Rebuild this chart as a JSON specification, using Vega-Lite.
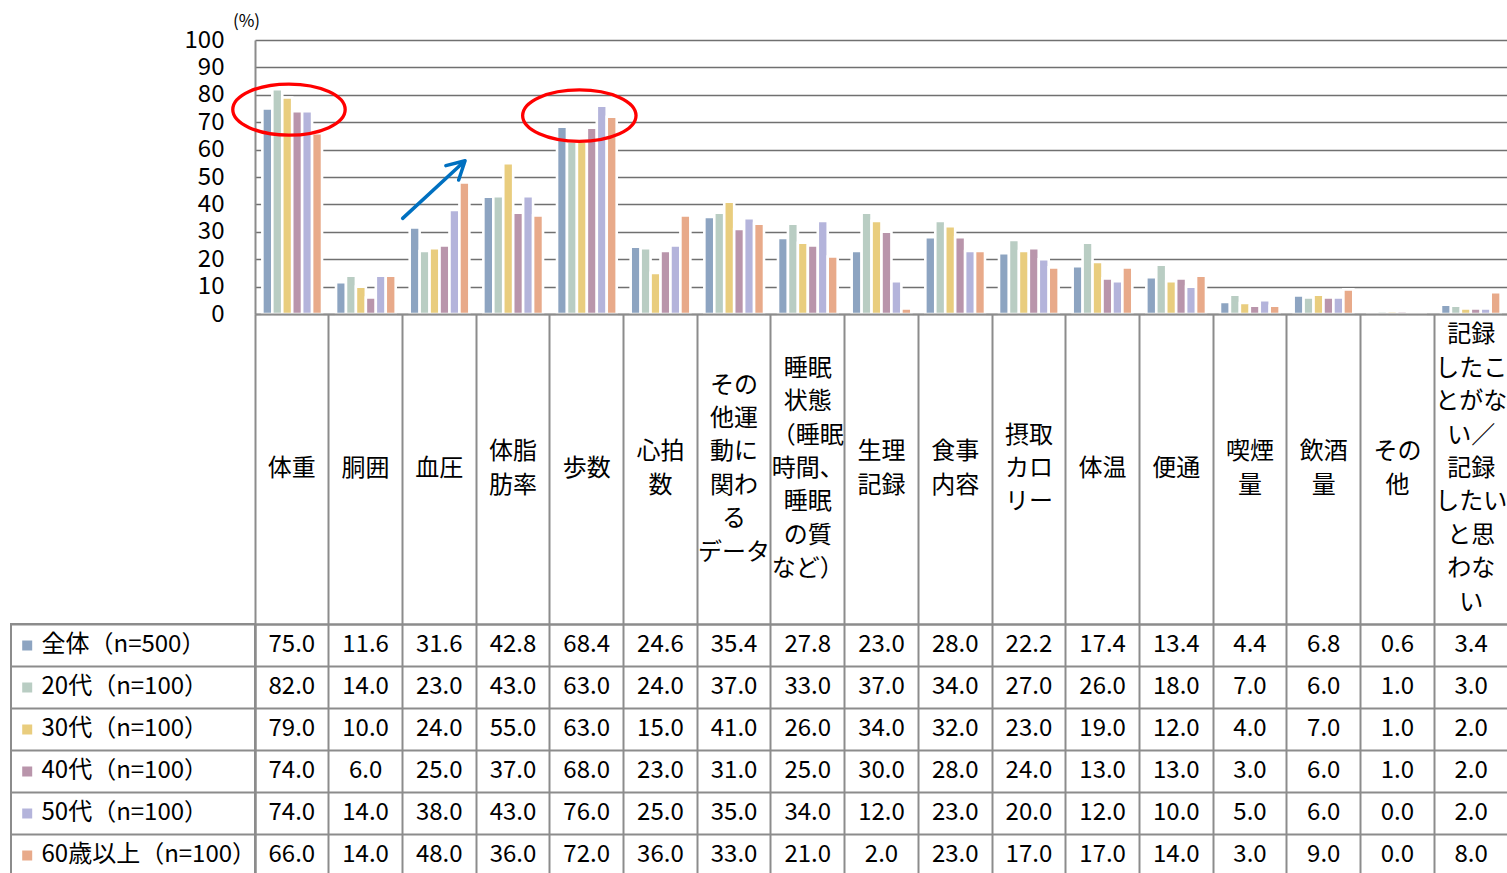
{
  "$schema": "https://vega.github.io/schema/vega-lite/v6.json",
  "padding": {"left": 10, "top": 12, "right": 0, "bottom": 0},
  "background": "white",
  "config": {
    "view": {"stroke": null},
    "font": "Noto Sans CJK JP",
    "axis": {"labelFont": "Noto Sans CJK JP", "titleFont": "Noto Sans CJK JP"}
  },
  "datasets": {
    "values": [
      {"category": "体重", "series": "全体（n=500）", "value": 75.0},
      {"category": "体重", "series": "20代（n=100）", "value": 82.0},
      {"category": "体重", "series": "30代（n=100）", "value": 79.0},
      {"category": "体重", "series": "40代（n=100）", "value": 74.0},
      {"category": "体重", "series": "50代（n=100）", "value": 74.0},
      {"category": "体重", "series": "60歳以上（n=100）", "value": 66.0},
      {"category": "胴囲", "series": "全体（n=500）", "value": 11.6},
      {"category": "胴囲", "series": "20代（n=100）", "value": 14.0},
      {"category": "胴囲", "series": "30代（n=100）", "value": 10.0},
      {"category": "胴囲", "series": "40代（n=100）", "value": 6.0},
      {"category": "胴囲", "series": "50代（n=100）", "value": 14.0},
      {"category": "胴囲", "series": "60歳以上（n=100）", "value": 14.0},
      {"category": "血圧", "series": "全体（n=500）", "value": 31.6},
      {"category": "血圧", "series": "20代（n=100）", "value": 23.0},
      {"category": "血圧", "series": "30代（n=100）", "value": 24.0},
      {"category": "血圧", "series": "40代（n=100）", "value": 25.0},
      {"category": "血圧", "series": "50代（n=100）", "value": 38.0},
      {"category": "血圧", "series": "60歳以上（n=100）", "value": 48.0},
      {"category": "体脂肪率", "series": "全体（n=500）", "value": 42.8},
      {"category": "体脂肪率", "series": "20代（n=100）", "value": 43.0},
      {"category": "体脂肪率", "series": "30代（n=100）", "value": 55.0},
      {"category": "体脂肪率", "series": "40代（n=100）", "value": 37.0},
      {"category": "体脂肪率", "series": "50代（n=100）", "value": 43.0},
      {"category": "体脂肪率", "series": "60歳以上（n=100）", "value": 36.0},
      {"category": "歩数", "series": "全体（n=500）", "value": 68.4},
      {"category": "歩数", "series": "20代（n=100）", "value": 63.0},
      {"category": "歩数", "series": "30代（n=100）", "value": 63.0},
      {"category": "歩数", "series": "40代（n=100）", "value": 68.0},
      {"category": "歩数", "series": "50代（n=100）", "value": 76.0},
      {"category": "歩数", "series": "60歳以上（n=100）", "value": 72.0},
      {"category": "心拍数", "series": "全体（n=500）", "value": 24.6},
      {"category": "心拍数", "series": "20代（n=100）", "value": 24.0},
      {"category": "心拍数", "series": "30代（n=100）", "value": 15.0},
      {"category": "心拍数", "series": "40代（n=100）", "value": 23.0},
      {"category": "心拍数", "series": "50代（n=100）", "value": 25.0},
      {"category": "心拍数", "series": "60歳以上（n=100）", "value": 36.0},
      {"category": "その他運動に関わるデータ", "series": "全体（n=500）", "value": 35.4},
      {"category": "その他運動に関わるデータ", "series": "20代（n=100）", "value": 37.0},
      {"category": "その他運動に関わるデータ", "series": "30代（n=100）", "value": 41.0},
      {"category": "その他運動に関わるデータ", "series": "40代（n=100）", "value": 31.0},
      {"category": "その他運動に関わるデータ", "series": "50代（n=100）", "value": 35.0},
      {"category": "その他運動に関わるデータ", "series": "60歳以上（n=100）", "value": 33.0},
      {"category": "睡眠状態（睡眠時間、睡眠の質など）", "series": "全体（n=500）", "value": 27.8},
      {"category": "睡眠状態（睡眠時間、睡眠の質など）", "series": "20代（n=100）", "value": 33.0},
      {"category": "睡眠状態（睡眠時間、睡眠の質など）", "series": "30代（n=100）", "value": 26.0},
      {"category": "睡眠状態（睡眠時間、睡眠の質など）", "series": "40代（n=100）", "value": 25.0},
      {"category": "睡眠状態（睡眠時間、睡眠の質など）", "series": "50代（n=100）", "value": 34.0},
      {"category": "睡眠状態（睡眠時間、睡眠の質など）", "series": "60歳以上（n=100）", "value": 21.0},
      {"category": "生理記録", "series": "全体（n=500）", "value": 23.0},
      {"category": "生理記録", "series": "20代（n=100）", "value": 37.0},
      {"category": "生理記録", "series": "30代（n=100）", "value": 34.0},
      {"category": "生理記録", "series": "40代（n=100）", "value": 30.0},
      {"category": "生理記録", "series": "50代（n=100）", "value": 12.0},
      {"category": "生理記録", "series": "60歳以上（n=100）", "value": 2.0},
      {"category": "食事内容", "series": "全体（n=500）", "value": 28.0},
      {"category": "食事内容", "series": "20代（n=100）", "value": 34.0},
      {"category": "食事内容", "series": "30代（n=100）", "value": 32.0},
      {"category": "食事内容", "series": "40代（n=100）", "value": 28.0},
      {"category": "食事内容", "series": "50代（n=100）", "value": 23.0},
      {"category": "食事内容", "series": "60歳以上（n=100）", "value": 23.0},
      {"category": "摂取カロリー", "series": "全体（n=500）", "value": 22.2},
      {"category": "摂取カロリー", "series": "20代（n=100）", "value": 27.0},
      {"category": "摂取カロリー", "series": "30代（n=100）", "value": 23.0},
      {"category": "摂取カロリー", "series": "40代（n=100）", "value": 24.0},
      {"category": "摂取カロリー", "series": "50代（n=100）", "value": 20.0},
      {"category": "摂取カロリー", "series": "60歳以上（n=100）", "value": 17.0},
      {"category": "体温", "series": "全体（n=500）", "value": 17.4},
      {"category": "体温", "series": "20代（n=100）", "value": 26.0},
      {"category": "体温", "series": "30代（n=100）", "value": 19.0},
      {"category": "体温", "series": "40代（n=100）", "value": 13.0},
      {"category": "体温", "series": "50代（n=100）", "value": 12.0},
      {"category": "体温", "series": "60歳以上（n=100）", "value": 17.0},
      {"category": "便通", "series": "全体（n=500）", "value": 13.4},
      {"category": "便通", "series": "20代（n=100）", "value": 18.0},
      {"category": "便通", "series": "30代（n=100）", "value": 12.0},
      {"category": "便通", "series": "40代（n=100）", "value": 13.0},
      {"category": "便通", "series": "50代（n=100）", "value": 10.0},
      {"category": "便通", "series": "60歳以上（n=100）", "value": 14.0},
      {"category": "喫煙量", "series": "全体（n=500）", "value": 4.4},
      {"category": "喫煙量", "series": "20代（n=100）", "value": 7.0},
      {"category": "喫煙量", "series": "30代（n=100）", "value": 4.0},
      {"category": "喫煙量", "series": "40代（n=100）", "value": 3.0},
      {"category": "喫煙量", "series": "50代（n=100）", "value": 5.0},
      {"category": "喫煙量", "series": "60歳以上（n=100）", "value": 3.0},
      {"category": "飲酒量", "series": "全体（n=500）", "value": 6.8},
      {"category": "飲酒量", "series": "20代（n=100）", "value": 6.0},
      {"category": "飲酒量", "series": "30代（n=100）", "value": 7.0},
      {"category": "飲酒量", "series": "40代（n=100）", "value": 6.0},
      {"category": "飲酒量", "series": "50代（n=100）", "value": 6.0},
      {"category": "飲酒量", "series": "60歳以上（n=100）", "value": 9.0},
      {"category": "その他", "series": "全体（n=500）", "value": 0.6},
      {"category": "その他", "series": "20代（n=100）", "value": 1.0},
      {"category": "その他", "series": "30代（n=100）", "value": 1.0},
      {"category": "その他", "series": "40代（n=100）", "value": 1.0},
      {"category": "その他", "series": "50代（n=100）", "value": 0.0},
      {"category": "その他", "series": "60歳以上（n=100）", "value": 0.0},
      {"category": "記録したことがない／記録したいと思わない", "series": "全体（n=500）", "value": 3.4},
      {"category": "記録したことがない／記録したいと思わない", "series": "20代（n=100）", "value": 3.0},
      {"category": "記録したことがない／記録したいと思わない", "series": "30代（n=100）", "value": 2.0},
      {"category": "記録したことがない／記録したいと思わない", "series": "40代（n=100）", "value": 2.0},
      {"category": "記録したことがない／記録したいと思わない", "series": "50代（n=100）", "value": 2.0},
      {"category": "記録したことがない／記録したいと思わない", "series": "60歳以上（n=100）", "value": 8.0}
    ],
    "cats": [
      {"category": "体重", "label": "体重"},
      {"category": "胴囲", "label": "胴囲"},
      {"category": "血圧", "label": "血圧"},
      {"category": "体脂肪率", "label": "体脂|肪率"},
      {"category": "歩数", "label": "歩数"},
      {"category": "心拍数", "label": "心拍|数"},
      {"category": "その他運動に関わるデータ", "label": "その|他運|動に|関わ|る|データ"},
      {"category": "睡眠状態（睡眠時間、睡眠の質など）", "label": "睡眠|状態|（睡眠|時間、|睡眠|の質|など）"},
      {"category": "生理記録", "label": "生理|記録"},
      {"category": "食事内容", "label": "食事|内容"},
      {"category": "摂取カロリー", "label": "摂取|カロ|リー"},
      {"category": "体温", "label": "体温"},
      {"category": "便通", "label": "便通"},
      {"category": "喫煙量", "label": "喫煙|量"},
      {"category": "飲酒量", "label": "飲酒|量"},
      {"category": "その他", "label": "その|他"},
      {"category": "記録したことがない／記録したいと思わない", "label": "記録|したこ|とがな|い／|記録|したい|と思|わな|い"}
    ],
    "series": [
      {"series": "全体（n=500）"},
      {"series": "20代（n=100）"},
      {"series": "30代（n=100）"},
      {"series": "40代（n=100）"},
      {"series": "50代（n=100）"},
      {"series": "60歳以上（n=100）"}
    ]
  },
  "columns": 2,
  "spacing": 0,
  "bounds": "flush",
  "align": "each",
  "concat": [
    {
      "width": 244, "height": 274,
      "data": {"values": [{}]},
      "mark": {"type": "text", "text": ""},
      "encoding": {}
    },
    {
      "width": 1253, "height": 274,
      "layer": [
        {
          "data": {"name": "values"},
          "mark": {"type": "bar", "stroke": "white", "strokeWidth": 2.6},
          "encoding": {
            "x": {
              "field": "category", "type": "nominal",
              "scale": {"type": "band", "domain": ["体重","胴囲","血圧","体脂肪率","歩数","心拍数","その他運動に関わるデータ","睡眠状態（睡眠時間、睡眠の質など）","生理記録","食事内容","摂取カロリー","体温","便通","喫煙量","飲酒量","その他","記録したことがない／記録したいと思わない"], "paddingInner": 0.19, "paddingOuter": 0.1},
              "axis": {"orient": "bottom", "labels": false, "ticks": false, "title": null, "domain": true, "domainColor": "#8c8c8c", "domainWidth": 2, "grid": false, "zindex": 1}
            },
            "xOffset": {
              "field": "series", "type": "nominal",
              "scale": {"domain": ["全体（n=500）","20代（n=100）","30代（n=100）","40代（n=100）","50代（n=100）","60歳以上（n=100）"], "paddingInner": 0, "paddingOuter": 0}
            },
            "y": {
              "field": "value", "type": "quantitative",
              "scale": {"domain": [0, 100], "nice": false},
              "axis": {
                "values": [0,10,20,30,40,50,60,70,80,90,100],
                "tickCount": 20,
                "domain": true, "domainColor": "#8c8c8c", "domainWidth": 2,
                "ticks": false, "labelPadding": 31, "labelFontSize": 24, "labelColor": "#000000",
                "labelFlush": false, "labelOverlap": false,
                "grid": true, "gridColor": "#707070", "gridWidth": 1.5,
                "title": "(%)", "titleAngle": 0, "titleFontSize": 17, "titleFontWeight": "normal",
                "titleX": -9, "titleY": -19, "titleAlign": "center", "titleBaseline": "middle", "titleColor": "#000000"
              }
            },
            "color": {
              "field": "series", "type": "nominal",
              "scale": {"domain": ["全体（n=500）","20代（n=100）","30代（n=100）","40代（n=100）","50代（n=100）","60歳以上（n=100）"], "range": ["#8DA4C1","#B9CDC3","#E9CD7E","#B995AB","#B4B4DB","#E8AA8A"]},
              "legend": null
            }
          }
        },
        {
          "data": {"values": [{"category": "体重", "value": 74.6}]},
          "mark": {"type": "point", "shape": "M-1,0C-1,-0.2513,-0.5523,-0.455,0,-0.455C0.5523,-0.455,1,-0.2513,1,0C1,0.2513,0.5523,0.455,0,0.455C-0.5523,0.455,-1,0.2513,-1,0Z", "filled": false, "stroke": "#FF0000", "strokeWidth": 3.3, "size": 12634, "opacity": 1},
          "encoding": {
            "x": {"field": "category", "type": "nominal", "bandPosition": 0.446},
            "y": {"field": "value", "type": "quantitative", "axis": {"values": [0,10,20,30,40,50,60,70,80,90,100], "tickCount": 20}}
          }
        },
        {
          "data": {"values": [{"category": "歩数", "value": 72.4}]},
          "mark": {"type": "point", "shape": "M-1,0C-1,-0.2513,-0.5523,-0.455,0,-0.455C0.5523,-0.455,1,-0.2513,1,0C1,0.2513,0.5523,0.455,0,0.455C-0.5523,0.455,-1,0.2513,-1,0Z", "filled": false, "stroke": "#FF0000", "strokeWidth": 3.3, "size": 12860, "opacity": 1},
          "encoding": {
            "x": {"field": "category", "type": "nominal", "bandPosition": 0.374},
            "y": {"field": "value", "type": "quantitative", "axis": {"values": [0,10,20,30,40,50,60,70,80,90,100], "tickCount": 20}}
          }
        },
        {
          "data": {"values": [{"category": "血圧", "value": 45.4}]},
          "mark": {"type": "point", "shape": "M-0.78,0.72L0.78,-0.72M0.3,-0.6L0.78,-0.72L0.62,-0.24", "filled": false, "stroke": "#0070C0", "strokeWidth": 3.5, "strokeCap": "round", "strokeJoin": "round", "size": 6400, "opacity": 1},
          "encoding": {
            "x": {"field": "category", "type": "nominal", "bandPosition": 0.405},
            "y": {"field": "value", "type": "quantitative", "axis": {"values": [0,10,20,30,40,50,60,70,80,90,100], "tickCount": 20}}
          }
        }
      ]
    },
    {
      "width": 244, "height": 310,
      "data": {"values": [{}]},
      "mark": {"type": "text", "text": ""},
      "encoding": {}
    },
    {
      "width": 1253, "height": 310,
      "data": {"name": "cats"},
      "mark": {"type": "text", "fontSize": 24, "lineHeight": 33.4, "lineBreak": "|", "baseline": "middle", "align": "center", "font": "Noto Sans CJK JP", "color": "#000000", "dy": {"expr": "-(length(split(datum.label, '|')) - 1) * 16.7"}},
      "encoding": {
        "x": {
          "field": "category", "type": "nominal",
          "scale": {"type": "band", "domain": ["体重","胴囲","血圧","体脂肪率","歩数","心拍数","その他運動に関わるデータ","睡眠状態（睡眠時間、睡眠の質など）","生理記録","食事内容","摂取カロリー","体温","便通","喫煙量","飲酒量","その他","記録したことがない／記録したいと思わない"], "paddingInner": 0, "paddingOuter": 0},
          "axis": {"orient": "top", "labels": false, "ticks": false, "domain": false, "grid": true, "gridColor": "#8c8c8c", "gridWidth": 2, "bandPosition": 0, "title": null}
        },
        "text": {"field": "label", "type": "nominal"}
      }
    },
    {
      "width": 244, "height": 252,
      "data": {"name": "series"},
      "view": {"stroke": "#8c8c8c", "strokeWidth": 2},
      "mark": {"type": "text", "text": ""},
      "encoding": {
        "y": {
          "field": "series", "type": "nominal",
          "scale": {"type": "band", "domain": ["全体（n=500）","20代（n=100）","30代（n=100）","40代（n=100）","50代（n=100）","60歳以上（n=100）"], "paddingInner": 0, "paddingOuter": 0},
          "axis": {
            "orient": "left", "offset": -20.7, "title": null, "domain": false, "grid": false,
            "ticks": true, "tickSize": 10, "tickWidth": 10, "tickCap": "butt",
            "tickColor": {
              "condition": [
                {"test": "datum.value === '全体（n=500）'", "value": "#8DA4C1"},
                {"test": "datum.value === '20代（n=100）'", "value": "#B9CDC3"},
                {"test": "datum.value === '30代（n=100）'", "value": "#E9CD7E"},
                {"test": "datum.value === '40代（n=100）'", "value": "#B995AB"},
                {"test": "datum.value === '50代（n=100）'", "value": "#B4B4DB"}
              ],
              "value": "#E8AA8A"
            },
            "labels": true, "labelAlign": "left", "labelBaseline": "middle", "labelPadding": -19.3,
            "labelFontSize": 24, "labelColor": "#000000", "labelLimit": 0, "labelOverlap": false,
            "bandPosition": 0.5
          }
        }
      }
    },
    {
      "width": 1253, "height": 252,
      "data": {"name": "values"},
      "mark": {"type": "text", "fontSize": 24, "baseline": "middle", "align": "center", "font": "Noto Sans CJK JP", "color": "#000000"},
      "encoding": {
        "x": {
          "field": "category", "type": "nominal",
          "scale": {"type": "band", "domain": ["体重","胴囲","血圧","体脂肪率","歩数","心拍数","その他運動に関わるデータ","睡眠状態（睡眠時間、睡眠の質など）","生理記録","食事内容","摂取カロリー","体温","便通","喫煙量","飲酒量","その他","記録したことがない／記録したいと思わない"], "paddingInner": 0, "paddingOuter": 0},
          "axis": {"orient": "top", "labels": false, "ticks": false, "domain": true, "domainColor": "#8c8c8c", "domainWidth": 2, "grid": true, "gridColor": "#8c8c8c", "gridWidth": 2, "bandPosition": 0, "title": null}
        },
        "y": {
          "field": "series", "type": "nominal",
          "scale": {"type": "band", "domain": ["全体（n=500）","20代（n=100）","30代（n=100）","40代（n=100）","50代（n=100）","60歳以上（n=100）"], "paddingInner": 0, "paddingOuter": 0},
          "axis": {"orient": "left", "labels": false, "ticks": true, "tickSize": 244, "tickColor": "#8c8c8c", "tickWidth": 2, "domain": true, "domainColor": "#8c8c8c", "domainWidth": 2, "grid": true, "gridColor": "#8c8c8c", "gridWidth": 2, "bandPosition": 0, "title": null}
        },
        "text": {"field": "value", "type": "quantitative", "format": ".1f"}
      }
    }
  ]
}
